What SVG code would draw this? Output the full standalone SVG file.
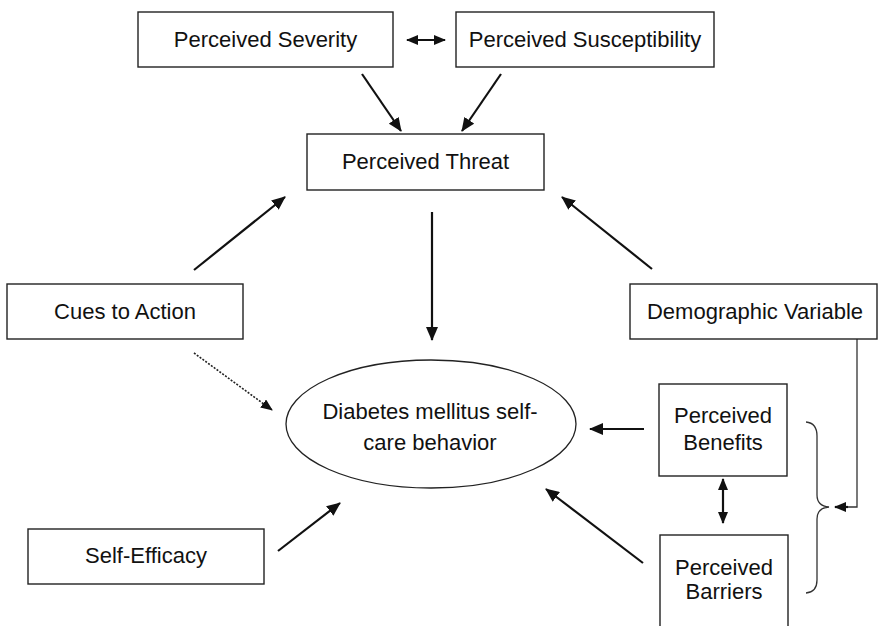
<svg xmlns="http://www.w3.org/2000/svg" width="878" height="626" viewBox="0 0 878 626">
<style>
.box{fill:#fff;stroke:#222;stroke-width:1.4}
.lbl{font-family:"Liberation Sans",Arial,sans-serif;font-size:22px;fill:#111;text-anchor:middle}
.ar{stroke:#111;stroke-width:2.2;fill:none}
.thin{stroke:#333;stroke-width:1.3;fill:none}
</style>
<defs>
<marker id="ah" markerUnits="userSpaceOnUse" markerWidth="14" markerHeight="12" refX="13" refY="6" orient="auto-start-reverse">
<path d="M0,0 L14,6 L0,12 Z" fill="#111"/>
</marker>
<marker id="ahs" markerUnits="userSpaceOnUse" markerWidth="12" markerHeight="10" refX="11" refY="5" orient="auto-start-reverse">
<path d="M0,0 L12,5 L0,10 Z" fill="#111"/>
</marker>
</defs>
<rect width="878" height="626" fill="#fff"/>
<g id="connectors">
<line class="ar" x1="407" y1="40" x2="445" y2="40" marker-start="url(#ahs)" marker-end="url(#ahs)"/>
<line class="ar" x1="362" y1="74" x2="401" y2="131" marker-end="url(#ah)"/>
<line class="ar" x1="501" y1="74" x2="462" y2="131" marker-end="url(#ah)"/>
<line class="ar" x1="194" y1="270" x2="285" y2="197" marker-end="url(#ah)"/>
<line class="ar" x1="652" y1="269" x2="562" y2="197" marker-end="url(#ah)"/>
<line class="ar" x1="432" y1="212" x2="432" y2="340" marker-end="url(#ah)"/>
<line x1="194" y1="353" x2="272" y2="410" stroke="#222" stroke-width="1.6" stroke-dasharray="2,1.5" marker-end="url(#ahs)"/>
<line class="ar" x1="644" y1="429" x2="590" y2="429" marker-end="url(#ah)"/>
<line class="ar" x1="723" y1="479" x2="723" y2="523" marker-start="url(#ahs)" marker-end="url(#ahs)"/>
<line class="ar" x1="643" y1="563" x2="546" y2="489" marker-end="url(#ah)"/>
<line class="ar" x1="278" y1="551" x2="340" y2="503" marker-end="url(#ah)"/>
<path class="thin" d="M857,339 L857,507 L846,507"/>
<line class="ar" x1="848" y1="507" x2="835" y2="507" marker-end="url(#ahs)"/>
<path class="thin" d="M806,422 Q817,423 817,436 L817,495 Q817,506 829,507 Q817,508 817,519 L817,580 Q817,592 806,593"/>
</g>
<g id="severity"><rect class="box" x="138" y="12" width="255" height="55"/><text class="lbl" x="265.5" y="47">Perceived Severity</text></g>
<g id="susceptibility"><rect class="box" x="456" y="12" width="258" height="55"/><text class="lbl" x="585" y="47">Perceived Susceptibility</text></g>
<g id="threat"><rect class="box" x="307" y="134" width="237" height="56"/><text class="lbl" x="425.5" y="169">Perceived Threat</text></g>
<g id="cues"><rect class="box" x="7" y="284" width="236" height="55"/><text class="lbl" x="125" y="319">Cues to Action</text></g>
<g id="demographic"><rect class="box" x="630" y="284" width="247" height="55"/><text class="lbl" x="755" y="319">Demographic Variable</text></g>
<g id="behavior"><ellipse cx="431" cy="424" rx="145" ry="64" fill="#fff" stroke="#222" stroke-width="1.3"/><text class="lbl" x="430" y="419">Diabetes mellitus self-</text><text class="lbl" x="430" y="450">care behavior</text></g>
<g id="benefits"><rect class="box" x="659" y="384" width="128" height="92"/><text class="lbl" x="723" y="423">Perceived</text><text class="lbl" x="723" y="450">Benefits</text></g>
<g id="barriers"><rect class="box" x="660" y="535" width="128" height="100"/><text class="lbl" x="724" y="575">Perceived</text><text class="lbl" x="724" y="599">Barriers</text></g>
<g id="selfefficacy"><rect class="box" x="28" y="529" width="236" height="55"/><text class="lbl" x="146" y="563">Self-Efficacy</text></g>
</svg>
